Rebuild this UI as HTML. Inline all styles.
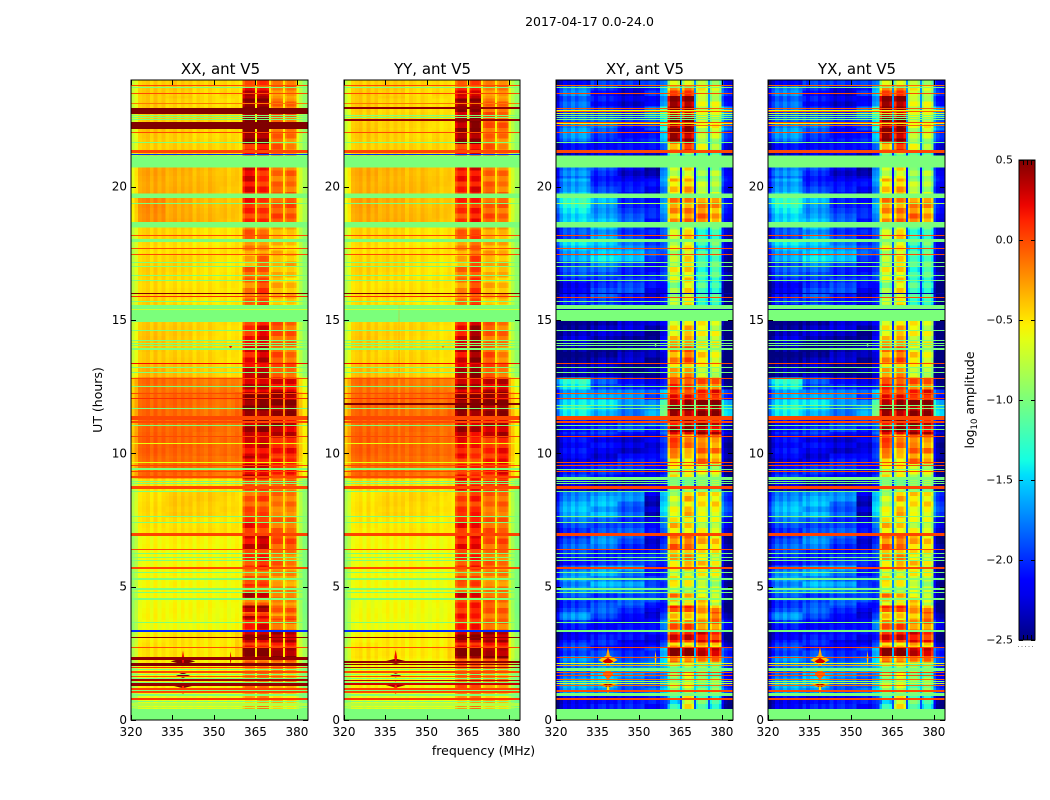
<!DOCTYPE html>
<html lang="en">
<head>
<meta charset="utf-8">
<title>2017-04-17 antenna V5 amplitude</title>
<style>
html,body{margin:0;padding:0;background:#fff;}
svg{display:block;}
text{font-family:"DejaVu Sans","Liberation Sans",sans-serif;fill:#000;}
</style>
</head>
<body>
<svg id="fig" width="1050" height="800" viewBox="0 0 1050 800" xmlns="http://www.w3.org/2000/svg">
<rect width="1050" height="800" fill="#fff"/>
<text x="589.5" y="26" font-size="12.5" text-anchor="middle">2017-04-17 0.0-24.0</text>
<g id="panels"></g>
<text x="220.5" y="74" font-size="15" text-anchor="middle">XX, ant V5</text>
<text x="432.5" y="74" font-size="15" text-anchor="middle">YY, ant V5</text>
<text x="645" y="74" font-size="15" text-anchor="middle">XY, ant V5</text>
<text x="857" y="74" font-size="15" text-anchor="middle">YX, ant V5</text>
<text transform="translate(102,400) rotate(-90)" font-size="12.5" text-anchor="middle">UT (hours)</text>
<text x="483.5" y="755" font-size="12.5" text-anchor="middle">frequency (MHz)</text>
<g id="colorbar"></g>
<text transform="translate(974,400) rotate(-90)" font-size="12.5" text-anchor="middle">log<tspan font-size="8.5" dy="3">10</tspan><tspan dy="-3"> amplitude</tspan></text>
</svg>
<script>
// ---- axis values ----
const xTickValues = [320, 335, 350, 365, 380];
const yTickValues = [0, 5, 10, 15, 20];
const cbTickValues = [0.5, 0, -0.5, -1, -1.5, -2, -2.5];
const cbTickLabels = ['0.5', '0.0', '\u22120.5', '\u22121.0', '\u22121.5', '\u22122.0', '\u22122.5'];
const flaggedValue = -1;

// frequency channel edges, MHz
const freqEdges = [320,321.2,322.6,324,325.4,326.8,328.2,329.6,331,332.4,333.8,335.2,336.6,338,339.4,340.8,342.2,343.6,345,346.4,347.8,349.2,350.6,352,353.4,354.8,356.2,357.6,359,360.4,
  361.2,363.9,364.8,365.6,366.4,369,369.9,370.6,371.4,374,374.9,375.6,376.4,379,379.8,380.8,382,384];
const activeBands = [[360.4,364.8],[365.6,369.9],[370.6,374.9],[375.6,379.8]];
const quietZoneEdges = [332,342,352,357];

// per-channel offset, log10 amplitude
const autoProfile = [-0.32,-0.2,-0.02,0.01,0.04,-0.04,0.05,-0.03,0.03,-0.03,0,0.04,-0.03,0.03,-0.02,0.02,-0.04,0.03,0,-0.04,0.03,-0.01,-0.04,0,0.03,-0.04,0,0.03,-0.02,
  -0.12,0,-0.04,0, -0.08,0,-0.04,0, -0.08,0,-0.04,0, -0.08,0,-0.05, -0.12,-0.28,-0.42];
const crossProfile = [-0.42,-0.14,0.03,-0.06,0.08,-0.05,0.06,0.1,-0.04,0.05,-0.08,0.04,0.08,-0.05,0.05,-0.03,0.07,-0.07,0.02,0.06,-0.05,-0.02,0.05,-0.04,0.03,0.04,-0.05,0.06,0.12,
  -0.35,0,-0.15,0, -0.3,0,-0.15,0, -0.2,0,-0.15,0, -0.2,0,-0.2, -0.1,-0.32,-0.4];

// mottling read by eye: relative offset per 0.2 h row for five quiet zones and four active bands
const textureRows = [
[ .6,-.3,-.8, .2, .5,  .8, .3,-.6,-.2],
[ .2, .7,-.4,-.7, .1, -.5,-.8, .4, .7],
[-.6, .3, .8,-.2,-.5,  .4, .9,-.2,-.5],
[-.9,-.4, .5, .7,-.2, -.9,-.3, .8, .3],
[-.2,-.8,-.1, .6, .4,  .6, .7,-.5,-.8],
[ .5,-.5,-.7, .1, .7, -.2,-.7, .2, .6],
[ .9, .2,-.6,-.5, .2,  .9, .5,-.8,-.1],
[ .3, .8, .1,-.8,-.4, -.6,-.1, .6, .9],
[-.4, .5, .7,-.1,-.7,  .3, .6, .1,-.6],
[-.8,-.2, .4, .8, .1, -.8,-.9, .7, .4],
[-.1,-.7,-.3, .4, .6,  .7, .2,-.7,-.3],
[ .7,-.1,-.9,-.3, .3, -.3,-.6, .5, .8],
[ .1, .6,-.2,-.6,-.1,  .5, .8,-.3,-.7]
];
const autoQuietTextureGain = 0.02;
const autoActiveTextureGain = 0.13;
const crossQuietTextureGain = 0.15;
const crossActiveTextureGain = 0.2;
const textureRowHours = 0.2;

// [start h, end h, five quiet-zone levels, four active-band levels, gap level]; uncovered rows are flagged
const xxBlocks = [
[24,23.7,-.42,-.42,-.45,-.45,-.5,-.05,0,-.1,-.1,-.5],
[23.7,23.3,-.42,-.42,-.45,-.45,-.5,.3,.3,-.2,-.2,-.5],
[23.3,22.95,-.42,-.45,-.45,-.48,-.5,.5,.5,-.1,-.15,-.55],
[22.95,22.1,-.42,-.45,-.45,-.48,-.5,.5,.5,-.1,-.1,-.55],
[22.1,21.6,-.42,-.42,-.45,-.45,-.5,.45,.45,-.05,-.15,-.55],
[21.6,21.16,-.42,-.42,-.45,-.45,-.5,.15,.2,-.1,-.2,-.55],
[20.71,19.75,-.3,-.33,-.35,-.4,-.42,.25,.12,-.12,-.12,-.5],
[19.58,18.67,-.22,-.3,-.35,-.38,-.42,.1,.03,-.03,-.03,-.45],
[18.46,18,-.45,-.45,-.48,-.5,-.5,-.1,-.15,-.3,-.35,-.5],
[18,17.5,-.48,-.48,-.5,-.5,-.5,-.22,-.2,-.35,-.45,-.5],
[17.5,17,-.45,-.45,-.48,-.5,-.5,-.3,-.1,-.4,-.35,-.5],
[17,16.5,-.45,-.45,-.48,-.5,-.5,-.1,-.05,-.3,-.4,-.5],
[16.5,15.56,-.45,-.48,-.5,-.5,-.52,-.15,0,-.35,-.35,-.55],
[14.93,14.2,-.4,-.42,-.45,-.48,-.5,.1,.25,-.05,-.1,-.45],
[14.2,13.36,-.4,-.42,-.45,-.48,-.5,.2,.3,-.05,-.1,-.45],
[13.36,12.85,-.35,-.38,-.4,-.45,-.48,.25,.3,0,-.05,-.4],
[12.85,12.3,-.12,-.13,-.15,-.15,-.2,.3,.35,.25,.2,-.3],
[12.3,11.4,-.1,-.1,-.12,-.12,-.1,.48,.5,.45,.45,-.2],
[11.4,10.6,-.08,-.1,-.1,-.12,-.12,.4,.4,.35,.3,-.2],
[10.6,9.9,-.08,-.08,-.08,-.1,-.12,.2,.25,.15,.15,-.2],
[9.9,9.05,-.1,-.1,-.12,-.15,-.15,.3,.25,.1,.1,-.3],
[9.05,8.55,-.5,-.5,-.5,-.5,-.5,0,0,-.1,-.1,-.5],
[8.55,7.6,-.48,-.42,-.42,-.45,-.5,-.05,-.02,-.15,-.15,-.45],
[7.6,7,-.5,-.48,-.48,-.5,-.52,.15,.1,-.1,-.15,-.5],
[7,6.4,-.58,-.55,-.55,-.55,-.55,.25,.3,-.02,-.05,-.55],
[6.4,5.7,-.58,-.56,-.56,-.56,-.58,.05,.1,-.1,-.15,-.6],
[5.7,5.1,-.58,-.56,-.56,-.56,-.58,-.1,-.05,-.2,-.25,-.6],
[5.1,4.8,-.58,-.56,-.56,-.56,-.58,.05,0,-.2,-.25,-.6],
[4.8,4.55,-.58,-.56,-.56,-.56,-.58,.35,.3,-.1,-.15,-.6],
[4.55,4.3,-.58,-.57,-.57,-.57,-.58,-.1,-.1,-.25,-.2,-.6],
[4.3,4.05,-.58,-.57,-.57,-.57,-.58,.4,.4,-.1,-.1,-.55],
[4.05,3.9,-.58,-.57,-.57,-.57,-.58,-.05,0,-.2,-.2,-.55],
[3.9,3.75,-.58,-.57,-.57,-.57,-.58,.3,.2,0,0,-.5],
[3.75,3.35,-.6,-.58,-.58,-.58,-.58,.1,.2,-.1,-.15,-.55],
[3.35,2.9,-.52,-.5,-.5,-.5,-.45,.4,.35,.35,.35,-.5],
[2.9,2.7,-.5,-.5,-.5,-.5,-.45,.1,.1,.1,.1,-.5],
[2.7,2.3,-.5,-.5,-.5,-.5,-.42,.5,.5,.45,.45,-.5],
[2.3,2,-.52,-.52,-.52,-.52,-.5,-.1,-.1,-.1,-.1,-.5],
[2,1,-.55,-.55,-.55,-.55,-.55,-.2,-.15,-.25,-.3,-.55],
[1,.42,-.62,-.62,-.62,-.62,-.62,-.35,-.25,-.4,-.45,-.6]
];
const yyBlocks = [
[24,23.7,-.42,-.42,-.45,-.45,-.5,-.1,-.05,-.12,-.15,-.5],
[23.7,23.3,-.42,-.42,-.45,-.45,-.5,.2,.25,-.2,-.2,-.5],
[23.3,22.95,-.42,-.45,-.45,-.48,-.5,.45,.5,-.1,-.15,-.55],
[22.95,22.1,-.42,-.45,-.45,-.48,-.5,.4,.5,-.05,-.1,-.55],
[22.1,21.6,-.42,-.42,-.45,-.45,-.5,.4,.45,-.05,-.15,-.55],
[21.6,21.16,-.42,-.42,-.45,-.45,-.5,.1,.2,-.1,-.2,-.55],
[20.71,19.75,-.32,-.34,-.36,-.4,-.42,.15,.22,-.1,-.15,-.5],
[19.58,18.67,-.3,-.32,-.36,-.38,-.42,.05,.12,-.05,-.08,-.45],
[18.46,18,-.45,-.45,-.48,-.5,-.5,-.12,-.02,-.25,-.3,-.5],
[18,17.5,-.48,-.48,-.5,-.5,-.5,-.25,-.05,-.3,-.35,-.5],
[17.5,17,-.45,-.45,-.48,-.5,-.5,-.3,0,-.35,-.35,-.5],
[17,16.5,-.45,-.45,-.48,-.5,-.5,-.15,.02,-.3,-.35,-.5],
[16.5,15.56,-.48,-.48,-.5,-.5,-.52,-.2,0,-.35,-.35,-.55],
[14.93,14.2,-.42,-.44,-.45,-.48,-.5,.2,.4,-.08,-.15,-.5],
[14.2,13.36,-.42,-.44,-.45,-.48,-.5,.28,.42,-.05,-.18,-.5],
[13.36,12.85,-.38,-.4,-.42,-.45,-.48,.3,.42,.02,-.1,-.4],
[12.85,12.3,-.12,-.13,-.15,-.15,-.2,.35,.38,.3,.3,-.3],
[12.3,11.4,-.1,-.1,-.12,-.12,-.1,.5,.5,.45,.45,-.2],
[11.4,10.6,-.08,-.1,-.1,-.12,-.12,.42,.3,.3,.35,-.2],
[10.6,9.9,-.08,-.08,-.08,-.1,-.12,.15,.1,.1,.15,-.25],
[9.9,9.05,-.1,-.1,-.12,-.15,-.15,.12,.08,.1,.18,-.3],
[9.05,8.55,-.48,-.48,-.48,-.5,-.5,.15,.15,.05,.05,-.5],
[8.55,7.6,-.5,-.45,-.45,-.48,-.52,.02,.08,-.1,-.1,-.45],
[7.6,7,-.52,-.5,-.5,-.52,-.54,.15,.2,-.05,-.1,-.5],
[7,6.4,-.58,-.56,-.56,-.56,-.56,.15,.2,-.05,-.05,-.55],
[6.4,5.7,-.58,-.57,-.57,-.57,-.58,.05,.1,-.1,-.12,-.6],
[5.7,4.8,-.58,-.57,-.57,-.57,-.58,-.08,-.02,-.18,-.2,-.6],
[4.8,4.55,-.58,-.57,-.57,-.57,-.58,.25,.25,-.05,-.1,-.6],
[4.55,3.35,-.6,-.58,-.58,-.58,-.58,.1,.12,-.08,-.12,-.55],
[3.35,2.9,-.55,-.52,-.52,-.52,-.48,.42,.42,.38,.35,-.5],
[2.9,2.7,-.52,-.52,-.52,-.52,-.48,.15,.15,.15,.1,-.5],
[2.7,2.3,-.5,-.5,-.5,-.5,-.44,.48,.5,.45,.42,-.5],
[2.3,2,-.54,-.54,-.54,-.54,-.5,-.05,-.05,-.08,-.1,-.5],
[2,1,-.56,-.56,-.56,-.56,-.56,-.1,-.05,-.2,-.25,-.55],
[1,.42,-.62,-.62,-.62,-.62,-.62,-.3,-.22,-.38,-.42,-.6]
];
const xyBlocks = [
[24,23.75,-2.1,-2,-2.1,-1.9,-1.8,-.7,-.8,-.7,-.8,-1.7],
[23.75,23.4,-1.8,-2.1,-2.2,-2,-1.7,-.1,.05,-.55,-.75,-1.7],
[23.4,23,-1.9,-2.15,-2.2,-2.1,-1.8,.5,.5,-.65,-.7,-1.7],
[23,22.1,-1.8,-1.9,-2.1,-1.85,-1.4,.5,.5,-.7,-.65,-1.7],
[22.1,21.7,-1.75,-1.9,-2.05,-2.1,-1.7,.5,.45,-.75,-.75,-1.7],
[21.7,21.3,-2,-2.1,-2.2,-2.2,-1.9,-.2,.1,-.7,-.8,-1.8],
[21.3,21.16,-2.3,-2.3,-2.3,-2.3,-2.2,-1,-1,-1.1,-1.1,-2],
[20.71,20.3,-1.8,-2,-2.2,-2.35,-1.85,-.75,-.55,-.9,-.85,-2.1],
[20.3,19.75,-1.6,-2,-2.15,-2.2,-1.8,-.4,-.3,-.8,-.8,-2.1],
[19.58,18.67,-1.4,-1.6,-1.95,-2.1,-1.8,-.25,-.2,-.15,-.25,-2],
[18.46,17.93,-1.95,-1.7,-1.9,-2.05,-2,-.8,-.5,-1.2,-1.15,-1.9],
[17.93,17.2,-1.55,-1.5,-1.65,-1.95,-2,-.75,-.5,-1.25,-1.1,-1.8],
[17.2,16.5,-2,-1.85,-1.95,-2.1,-2.1,-.65,-.45,-1.2,-1.15,-2],
[16.5,15.56,-2.1,-1.95,-2,-2.2,-2.2,-.85,-.55,-1.2,-1.2,-2],
[14.97,14.2,-2.4,-2.4,-2.35,-2.4,-2.25,-.5,-.35,-.6,-.7,-2],
[14.2,13.36,-2.4,-2.4,-2.4,-2.45,-2.3,-.2,-.1,-.5,-.6,-1.9],
[13.36,12.85,-2.45,-2.4,-2.4,-2.4,-2.35,-.4,-.3,-.6,-.7,-1.8],
[12.85,12.4,-1.4,-1.85,-2,-2.2,-2.2,.05,.05,-.05,-.15,-1.8],
[12.4,12,-1.55,-1.7,-1.8,-1.95,-1.6,.2,.15,.05,.2,-1.6],
[12,11.4,-1.5,-1.55,-1.7,-1.6,-1.2,.5,.5,.5,.45,-1],
[11.4,10.7,-2.05,-2.05,-2.05,-2.05,-1.9,.35,.4,.4,.3,-1.6],
[10.7,10,-2.2,-2.2,-2.2,-2.2,-2.1,-.05,-.2,-.1,-.2,-1.8],
[10,9.6,-2.15,-2.2,-2.1,-2.2,-2.1,-.3,-.4,-.15,-.35,-1.9],
[9.6,9,-2.1,-2.1,-2.1,-2.1,-2.1,-.6,-.6,-.7,-.75,-1.9],
[9,8.55,-2.3,-2.3,-2.3,-2.3,-2.3,-.9,-.9,-.9,-.9,-2],
[8.55,7.6,-1.65,-1.65,-1.8,-2.3,-1.6,-.7,-.4,-.5,-.5,-1.7],
[7.6,7,-1.9,-1.85,-1.9,-2.2,-1.95,-.4,-.4,-.65,-.7,-1.8],
[7,6.4,-1.95,-1.8,-1.95,-2.2,-2.05,-.15,-.15,-.35,-.5,-1.9],
[6.4,5.8,-2,-1.95,-2,-2.1,-2.1,-.35,-.25,-.45,-.55,-1.8],
[5.8,5.2,-1.75,-1.7,-1.75,-2,-2.1,-.6,-.55,-.55,-.65,-1.7],
[5.2,4.75,-1.8,-1.65,-1.6,-1.85,-2.1,-.6,-.65,-.7,-.8,-1.7],
[4.75,4.45,-1.85,-1.9,-1.9,-2,-2.15,-.2,-.3,-.45,-.65,-1.8],
[4.45,4.3,-1.95,-1.95,-1.95,-2.05,-2.1,-.65,-.6,-.45,-.7,-1.9],
[4.3,4.05,-1.95,-1.95,-2.05,-2.1,-2.1,.1,.05,-.3,-.3,-2],
[4.05,3.75,-1.8,-1.95,-2.05,-2.2,-2.05,-.5,-.45,-.3,-.15,-1.9],
[3.75,3.35,-2.05,-2.05,-2.1,-2.2,-1.9,-.1,-.05,-.2,-.15,-1.8],
[3.35,2.9,-2.1,-2.1,-2.2,-2.2,-2.1,.25,.2,.2,.1,-1.9],
[2.9,2.7,-2,-2.1,-2.1,-2.1,-2,-.4,-.4,-.3,-.5,-1.8],
[2.7,2.4,-2,-2,-2,-1.95,-1.7,.5,.5,.45,.4,-1.6],
[2.4,2.15,-1.8,-1.8,-1.8,-1.8,-1.6,-.1,-.1,-.2,-.2,-1.5],
[2.15,1,-1.75,-1.65,-1.8,-1.8,-1.7,-.9,-.7,-1,-1,-1.5],
[1,.42,-2.1,-2.1,-2.15,-2.15,-2.05,-1.3,-.6,-1.1,-1.2,-1.9]
];
const yxBlocks = xyBlocks.map(function (row) { return row.slice(); });

// full-width rows: [hour, thickness h, value]
const autoSharedLines = [
[23.8,.04,0],[23.7,.04,-1],[23.5,.04,0],[23.1,.04,-.15],[22.68,.04,-1],[22.6,.04,-1],[22.52,.04,-1],[22.04,.04,0],[21.66,.04,-1],[21.33,.1,0],[21.2,.04,-2],
[19.37,.04,-1],[18.17,.04,0],[17.98,.11,-1],[17.69,.04,0],[17.46,.04,0],[17.16,.04,-1],[17.01,.04,-1],[16.68,.04,-1],[16.49,.04,-1],
[16,.04,.5],[15.87,.04,.1],[15.7,.04,-1],[15.38,.04,-.7],
[14.6,.04,-1],[14.22,.04,-1],[14.12,.04,-1],[14.04,.04,-1],[13.91,.08,-1],[13.36,.04,.2],[13.22,.04,-1],[13.04,.04,-1],[12.81,.04,0],[12.51,.04,-1],[12.25,.04,0],[12.06,.04,.1],[11.69,.04,-1],
[11.33,.15,0],[11.16,.09,0],[11.06,.04,-1],[10.64,.04,0],[10.35,.04,-.6],[9.66,.04,-.6],[9.56,.04,0],[9.41,.06,-1],[9.31,.04,0],[9.12,.09,0],[8.94,.04,-1],[8.85,.04,-1],[8.72,.13,0],[8.56,.04,-1],
[7.62,.04,-1],[7.41,.04,-1],[6.94,.12,.02],[6.4,.04,0],[6.25,.04,-1],[6.1,.04,-1],[5.97,.04,-1],[5.7,.09,0],[5.54,.04,-1],[5.3,.08,-1],[4.94,.04,-1],[4.88,.04,-1],[4.79,.04,-1],[4.55,.08,-1],[3.66,.04,-1],[3.33,.08,-2],
[3.1,.04,.45],[2.72,.04,0],
[1.95,.04,.1],[1.88,.04,-1],[1.79,.09,0],[1.72,.04,-1],[1.62,.04,0],[1.55,.04,-1],[1.42,.04,-1],[1.17,.09,.02],[1.11,.04,-1],[1.06,.07,0],[.95,.08,-1],[.79,.09,.05],[.68,.04,-1],[.63,.03,-.8],[.58,.03,-.8],[.53,.03,-.8],[.48,.03,-.8]
];
const xxOnlyLines = [
[22.84,.22,.5],[22.3,.28,.5],[2.31,.1,.45],[2.1,.06,.5],[2.04,.05,.5],[1.49,.06,.4],[1.35,.1,.45]
];
const yyOnlyLines = [
[22.95,.06,.45],[22.5,.08,.45],[11.84,.06,.5],[2.18,.07,.45],[2.08,.05,.48],[1.95,.05,.4],[1.49,.05,.35],[1.35,.06,.3]
];
const crossLines = [
[23.8,.04,-.1],[23.7,.04,-1],[23.5,.04,0],[22.92,.04,-.05],[22.87,.04,-.6],[22.8,.04,-.05],[22.75,.04,-.65],[22.68,.04,-1],[22.6,.04,-1],[22.52,.04,-1],[22.42,.04,0],[22.36,.04,-.6],[22.3,.04,-.1],[22.04,.04,0],[21.66,.04,-1],[21.33,.1,0],
[19.37,.04,-.85],[18.17,.04,0],[17.98,.11,-1],[17.69,.04,0],[17.46,.04,0],[17.16,.04,-1],[17.01,.04,-1],[16.68,.04,-1],[16.49,.04,-1],
[16,.04,-2.4],[15.85,.04,0],[15.7,.04,-1],[15.38,.04,-2.4],
[14.6,.04,-1],[14.22,.04,-1],[14.12,.04,-1],[14.04,.04,-1],[13.91,.08,-1],[13.36,.04,0],[13.22,.04,-1],[13.04,.04,-1],[12.81,.04,0],[12.51,.04,-1],[12.25,.04,-.05],[12.06,.04,0],[11.81,.04,-1],[11.69,.04,-1],
[11.33,.15,0],[11.16,.09,0],[11.06,.04,-1],[10.9,.04,-1],[10.64,.04,0],[9.66,.04,0],[9.56,.04,0],[9.41,.04,-1],[9.31,.04,0],[9.06,.12,-1],[8.94,.04,-1],[8.85,.04,-1],[8.72,.13,0],[8.56,.04,-1],
[7.62,.04,-1],[7.41,.04,-1],[6.94,.12,.02],[6.4,.04,0],[6.25,.04,-1],[6.1,.04,-1],[5.97,.04,-1],[5.7,.09,0],[5.54,.04,-1],[5.3,.08,-1],[4.94,.04,-1],[4.88,.04,-1],[4.79,.04,-1],[4.55,.08,-1],[3.66,.04,-1],[3.35,.08,-1],
[2.72,.04,0],[2.35,.04,0],[2.12,.04,-.6],[2.05,.04,-.3],[1.88,.13,-1],[1.78,.05,0],[1.65,.04,0],[1.5,.05,-.1],[1.43,.04,-.9],[1.38,.04,-.7],[1.28,.05,-.1],[1.09,.07,0],[.98,.1,-1],[.79,.09,0]
];

// narrow interference features, outer layers first: [MHz, hour, half width MHz, half height h, value]
const xxSpots = [[338.8,2.2,4.5,.12,.5],[338.8,2.3,.5,.3,.2],[338.8,1.68,2.5,.1,.5],[338.8,1.31,4.5,.12,.5],[338.8,1.2,.5,.3,.1],[356,2.32,.3,.26,.2],[356,14,.6,.06,.2]];
const yySpots = [[338.8,2.2,4,.1,.5],[338.8,2.35,.5,.28,.2],[338.8,1.68,2,.08,.4],[338.8,1.31,3.5,.1,.4],[338.8,1.2,.5,.28,.1],[356,14,.5,.06,-.2],[340,12.5,.25,3.6,-.25]];
const xySpots = [[338.8,2.25,3.5,.2,-.4],[338.8,2.45,.6,.3,-.3],[338.8,2.2,2,.13,.3],[338.8,1.72,2,.2,-.1],[338.8,1.31,3.5,.1,-.3],[338.8,1.31,2,.08,.4],[338.8,1.15,.5,.2,-.5],[356,2.3,.3,.3,-.4],[356,14.05,.5,.06,-1]];
const yxSpots = xySpots.map(function (row) { return row.slice(); });

const panelBoxes = [[131,308],[344,520],[556,733],[768,945]];
const panelTop = 80;
const panelBottom = 720;
const freqMin = 320;
const freqMax = 384;
const hourMax = 24;

const SVGNS = 'http://www.w3.org/2000/svg';
function make(tag) { return document.createElementNS(SVGNS, tag); }

function ramp(t, pts) {
  if (t <= pts[0][0]) return pts[0][1];
  for (let i = 1; i < pts.length; i++) {
    if (t <= pts[i][0]) {
      const a = pts[i - 1], b = pts[i];
      return a[1] + (b[1] - a[1]) * (t - a[0]) / (b[0] - a[0]);
    }
  }
  return pts[pts.length - 1][1];
}
function jet(v) {
  const t = Math.max(0, Math.min(1, (v + 2.5) / 3));
  const r = ramp(t, [[.35,0],[.66,1],[.89,1],[1,.5]]);
  const g = ramp(t, [[.125,0],[.375,1],[.64,1],[.91,0]]);
  const b = ramp(t, [[0,.5],[.11,1],[.34,1],[.65,0]]);
  return 'rgb(' + Math.round(r * 255) + ',' + Math.round(g * 255) + ',' + Math.round(b * 255) + ')';
}
function yScale(h) { return panelBottom - (h / hourMax) * (panelBottom - panelTop); }

// returns [index into row, texture column, is-quiet flag]
function cellSlot(mid) {
  for (let b = 0; b < activeBands.length; b++) {
    if (mid >= activeBands[b][0] && mid < activeBands[b][1]) return [7 + b, 5 + b, false];
    if (b < 3 && mid >= activeBands[b][1] && mid < activeBands[b + 1][0]) return [11, -1, false];
  }
  let z = 0;
  while (z < quietZoneEdges.length && mid >= quietZoneEdges[z]) z++;
  return [2 + z, z, true];
}

function drawPanel(root, box, name, blocks, profile, lines, spots, quietGain, activeGain) {
  const left = box[0], right = box[1];
  const xScale = function (f) { return left + (f - freqMin) / (freqMax - freqMin) * (right - left); };
  const g = make('g');
  
  
  root.appendChild(g);

  const bg = make('rect');
  
  
  bg.setAttribute('x', left);
  bg.setAttribute('y', panelTop);
  bg.setAttribute('width', right - left);
  bg.setAttribute('height', panelBottom - panelTop);
  bg.setAttribute('fill', jet(flaggedValue));
  g.appendChild(bg);

  blocks.forEach(function (row) {
    let top = row[0];
    while (top > row[1] + 1e-6) {
      const rowIndex = Math.ceil(top / textureRowHours - 1e-6) - 1;
      const bottom = Math.max(row[1], rowIndex * textureRowHours);
      const texture = textureRows[rowIndex % textureRows.length];
      for (let c = 0; c < freqEdges.length - 1; c++) {
        const mid = (freqEdges[c] + freqEdges[c + 1]) / 2;
        const slot = cellSlot(mid);
        const mottle = slot[1] < 0 ? 0 : texture[slot[1]] * (slot[2] ? quietGain : activeGain);
        const cell = make('rect');
        
        
        cell.setAttribute('x', xScale(freqEdges[c]));
        cell.setAttribute('width', xScale(freqEdges[c + 1]) - xScale(freqEdges[c]));
        cell.setAttribute('y', yScale(top));
        cell.setAttribute('height', yScale(bottom) - yScale(top));
        cell.setAttribute('fill', jet(row[slot[0]] + profile[c] + mottle));
        cell.setAttribute('shape-rendering', 'crispEdges');
        g.appendChild(cell);
      }
      top = bottom;
    }
  });

  spots.forEach(function (s) {
    const spot = make('polygon');
    
    
    spot.setAttribute('points',
      xScale(s[0] - s[2]) + ',' + yScale(s[1]) + ' ' +
      xScale(s[0]) + ',' + yScale(s[1] + s[3]) + ' ' +
      xScale(s[0] + s[2]) + ',' + yScale(s[1]) + ' ' +
      xScale(s[0]) + ',' + yScale(s[1] - s[3]));
    spot.setAttribute('fill', jet(s[4]));
    g.appendChild(spot);
  });

  lines.forEach(function (l) {
    const line = make('rect');
    
    
    line.setAttribute('x', left);
    line.setAttribute('width', right - left);
    line.setAttribute('y', Math.round(yScale(l[0] + l[1] / 2)));
    line.setAttribute('height', Math.max(1, Math.round(yScale(l[0] - l[1] / 2) - yScale(l[0] + l[1] / 2))));
    line.setAttribute('fill', jet(l[2]));
    line.setAttribute('shape-rendering', 'crispEdges');
    g.appendChild(line);
  });

  const frame = make('rect');
  
  
  frame.setAttribute('x', left);
  frame.setAttribute('y', panelTop);
  frame.setAttribute('width', right - left);
  frame.setAttribute('height', panelBottom - panelTop);
  frame.setAttribute('fill', 'none');
  frame.setAttribute('stroke', '#000');
  frame.setAttribute('stroke-width', '1');
  g.appendChild(frame);

  xTickValues.forEach(function (f) {
    [[panelBottom, panelBottom - 5], [panelTop, panelTop + 5]].forEach(function (p) {
      const tick = make('line');
      
      
      tick.setAttribute('x1', Math.round(xScale(f)) + .5);
      tick.setAttribute('x2', Math.round(xScale(f)) + .5);
      tick.setAttribute('y1', p[0]);
      tick.setAttribute('y2', p[1]);
      tick.setAttribute('stroke', '#000');
      g.appendChild(tick);
    });
    const label = make('text');
    
    
    label.setAttribute('x', xScale(f));
    label.setAttribute('y', 736);
    label.setAttribute('font-size', '12');
    label.setAttribute('text-anchor', 'middle');
    label.textContent = String(f);
    g.appendChild(label);
  });
  yTickValues.forEach(function (h) {
    [[left, left + 5], [right, right - 5]].forEach(function (p) {
      const tick = make('line');
      
      
      tick.setAttribute('x1', p[0]);
      tick.setAttribute('x2', p[1]);
      tick.setAttribute('y1', Math.round(yScale(h)) + .5);
      tick.setAttribute('y2', Math.round(yScale(h)) + .5);
      tick.setAttribute('stroke', '#000');
      g.appendChild(tick);
    });
    const label = make('text');
    
    
    label.setAttribute('x', left - 4);
    label.setAttribute('y', yScale(h) + 4);
    label.setAttribute('font-size', '12');
    label.setAttribute('text-anchor', 'end');
    label.textContent = String(h);
    g.appendChild(label);
  });
}

const panelsRoot = document.getElementById('panels');
drawPanel(panelsRoot, panelBoxes[0], 'xx', xxBlocks, autoProfile, autoSharedLines.concat(xxOnlyLines), xxSpots, autoQuietTextureGain, autoActiveTextureGain);
drawPanel(panelsRoot, panelBoxes[1], 'yy', yyBlocks, autoProfile, autoSharedLines.concat(yyOnlyLines), yySpots, autoQuietTextureGain, autoActiveTextureGain);
drawPanel(panelsRoot, panelBoxes[2], 'xy', xyBlocks, crossProfile, crossLines, xySpots, crossQuietTextureGain, crossActiveTextureGain);
drawPanel(panelsRoot, panelBoxes[3], 'yx', yxBlocks, crossProfile, crossLines, yxSpots, crossQuietTextureGain, crossActiveTextureGain);

// ---- colorbar ----
(function () {
  const cb = document.getElementById('colorbar');
  const cbLeft = 1019, cbRight = 1035, cbTop = 160, cbBottom = 640;
  const cbMin = -2.5, cbMax = 0.5;
  const cbY = function (v) { return cbBottom - (v - cbMin) / (cbMax - cbMin) * (cbBottom - cbTop); };
  const defs = make('defs');
  const grad = make('linearGradient');
  grad.setAttribute('id', 'jet-gradient');
  grad.setAttribute('x1', '0');
  grad.setAttribute('y1', '1');
  grad.setAttribute('x2', '0');
  grad.setAttribute('y2', '0');
  for (let i = 0; i <= 32; i++) {
    const stop = make('stop');
    stop.setAttribute('offset', i / 32);
    stop.setAttribute('stop-color', jet(cbMin + (cbMax - cbMin) * i / 32));
    grad.appendChild(stop);
  }
  defs.appendChild(grad);
  cb.appendChild(defs);
  const bar = make('rect');
  
  
  bar.setAttribute('x', cbLeft);
  bar.setAttribute('y', cbTop);
  bar.setAttribute('width', cbRight - cbLeft);
  bar.setAttribute('height', cbBottom - cbTop);
  bar.setAttribute('fill', 'url(#jet-gradient)');
  bar.setAttribute('stroke', '#000');
  cb.appendChild(bar);
  cbTickValues.forEach(function (v, i) {
    [[cbLeft, cbLeft + 4], [cbRight, cbRight - 4]].forEach(function (p) {
      const tick = make('line');
      
      
      tick.setAttribute('x1', p[0]);
      tick.setAttribute('x2', p[1]);
      tick.setAttribute('y1', Math.round(cbY(v)) + .5);
      tick.setAttribute('y2', Math.round(cbY(v)) + .5);
      tick.setAttribute('stroke', '#000');
      cb.appendChild(tick);
    });
    const label = make('text');
    
    
    label.setAttribute('x', 1013);
    label.setAttribute('y', cbY(v) + 3.5);
    label.setAttribute('font-size', '11');
    label.setAttribute('text-anchor', 'end');
    label.textContent = cbTickLabels[i];
    cb.appendChild(label);
  });
  [1023, 1027, 1031].forEach(function (x) {
    [[cbTop, cbTop + 5], [cbBottom, cbBottom - 5]].forEach(function (p) {
      const mark = make('line');
      
      
      mark.setAttribute('x1', x + .5);
      mark.setAttribute('x2', x + .5);
      mark.setAttribute('y1', p[0]);
      mark.setAttribute('y2', p[1]);
      mark.setAttribute('stroke', '#000');
      cb.appendChild(mark);
    });
  });
  const dots = make('line');
  
  
  dots.setAttribute('x1', 1018);
  dots.setAttribute('x2', 1035);
  dots.setAttribute('y1', 646.5);
  dots.setAttribute('y2', 646.5);
  dots.setAttribute('stroke', '#888');
  dots.setAttribute('stroke-dasharray', '1 2.5');
  cb.appendChild(dots);
})();
</script>
</body>
</html>
